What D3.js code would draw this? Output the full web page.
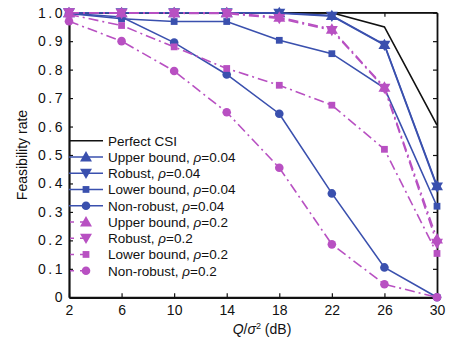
<!DOCTYPE html>
<html><head><meta charset="utf-8">
<script src="https://cdn.jsdelivr.net/npm/d3@7"></script>
<style>body{margin:0;background:#fff;} svg{display:block;font-family:"Liberation Sans",Arial,sans-serif;}</style>
</head><body>
<svg id="c" width="451" height="342"></svg>
<script>
const xValues = [2, 6, 10, 14, 18, 22, 26, 30];
const yTicks = [0, 0.1, 0.2, 0.3, 0.4, 0.5, 0.6, 0.7, 0.8, 0.9, 1.0];
const yTickLabels = ["0", "0.1", "0.2", "0.3", "0.4", "0.5", "0.6", "0.7", "0.8", "0.9", "1.0"];

const perfectCSI   = [1.0, 1.0, 1.0, 1.0, 1.0, 1.0, 0.95, 0.605];
const upper004     = [1.0, 1.0, 1.0, 1.0, 1.0, 0.99, 0.888, 0.392];
const robust004    = [1.0, 1.0, 1.0, 1.0, 0.998, 0.988, 0.886, 0.388];
const lower004     = [0.997, 0.979, 0.969, 0.969, 0.903, 0.856, 0.735, 0.32];
const nonrobust004 = [0.998, 0.985, 0.895, 0.783, 0.645, 0.365, 0.105, 0.0];
const upper02      = [1.0, 1.0, 1.0, 1.0, 0.984, 0.942, 0.738, 0.205];
const robust02     = [1.0, 0.998, 0.998, 0.997, 0.98, 0.938, 0.735, 0.19];
const lower02      = [0.994, 0.955, 0.88, 0.804, 0.745, 0.675, 0.52, 0.154];
const nonrobust02  = [0.97, 0.9, 0.795, 0.65, 0.455, 0.186, 0.046, 0.0];

const legendLabels = ["Perfect CSI", "Upper bound, ", "Robust, ", "Lower bound, ", "Non-robust, ",
                      "Upper bound, ", "Robust, ", "Lower bound, ", "Non-robust, "];
const legendRho = [null, "0.04", "0.04", "0.04", "0.04", "0.2", "0.2", "0.2", "0.2"];

const BLUE = "#3a50ae", MAG = "#b850c2", BLACK = "#111";
const DASH = "10,4,2,4";

const series = [
  {vals: perfectCSI, color: BLACK, dash: null, sym: null},
  {vals: upper004, color: BLUE, dash: null, sym: "up"},
  {vals: robust004, color: BLUE, dash: null, sym: "down"},
  {vals: lower004, color: BLUE, dash: null, sym: "square"},
  {vals: nonrobust004, color: BLUE, dash: null, sym: "circle"},
  {vals: upper02, color: MAG, dash: DASH, sym: "up"},
  {vals: robust02, color: MAG, dash: DASH, sym: "down"},
  {vals: lower02, color: MAG, dash: DASH, sym: "square"},
  {vals: nonrobust02, color: MAG, dash: DASH, sym: "circle"},
];

const L = 69, R = 437, T = 12.7, B = 297.3;
const svg = d3.select("#c");
const x = d3.scaleLinear().domain([2, 30]).range([L, R]);
const y = d3.scaleLinear().domain([0, 1]).range([B, T]);

function symPath(s) {
  if (s === "up" || s === "down") return d3.symbol().type(d3.symbolTriangle).size(62)();
  if (s === "square") return d3.symbol().type(d3.symbolSquare).size(46)();
  return d3.symbol().type(d3.symbolCircle).size(58)();
}
function symTransform(s, px, py) {
  if (s === "down") return `translate(${px},${py - 1}) rotate(180)`;
  if (s === "up") return `translate(${px},${py + 1})`;
  return `translate(${px},${py})`;
}

// Frame
svg.append("line").attr("x1", L).attr("x2", R).attr("y1", T).attr("y2", T).attr("stroke", "#111").attr("stroke-width", 1.3);

// Axes
const xAxis = d3.axisBottom(x).tickValues(xValues).tickSizeInner(-4).tickSizeOuter(0).tickPadding(8);
const gx = svg.append("g").attr("transform", `translate(0,${B})`).call(xAxis);
const yAxis = d3.axisLeft(y).tickValues(yTicks).tickFormat((d, i) => yTickLabels[i]).tickSizeInner(-4).tickSizeOuter(0).tickPadding(4);
const gy = svg.append("g").attr("transform", `translate(${L},0)`).call(yAxis);
const gyr = svg.append("g").attr("transform", `translate(${R},0)`).call(d3.axisRight(y).tickValues(yTicks).tickFormat("").tickSizeInner(-4).tickSizeOuter(0));
const gxt = svg.append("g").attr("transform", `translate(0,${T})`).call(d3.axisTop(x).tickValues(xValues).tickFormat("").tickSizeInner(-4).tickSizeOuter(0));
[gx, gy, gyr, gxt].forEach(g => {
  g.selectAll(".domain").attr("stroke", "#111").attr("stroke-width", 2.2);
  g.selectAll(".tick line").attr("stroke", "#111").attr("stroke-width", 1.2);
  g.selectAll("text").attr("fill", "#111").style("font-size", "14px").style("font-family", '"Liberation Sans",Arial,sans-serif');
});
gy.selectAll("text").style("letter-spacing", "2.5px");
gxt.select(".domain").attr("stroke-width", 1.3);
gyr.select(".domain").attr("stroke-width", 1.8);

// Series
const line = d3.line().x((d, i) => x(xValues[i])).y(d => y(d));
series.forEach(s => {
  svg.append("path").datum(s.vals).attr("d", line).attr("fill", "none")
    .attr("stroke", s.color).attr("stroke-width", 1.6)
    .attr("stroke-dasharray", s.dash);
  if (s.sym) {
    svg.append("g").selectAll("path").data(s.vals).join("path")
      .attr("d", symPath(s.sym))
      .attr("transform", (d, i) => symTransform(s.sym, x(xValues[i]), y(d)))
      .attr("fill", s.color);
  }
});

// Legend
const lg = svg.append("g");
series.forEach((s, i) => {
  const ly = 140.7 + i * 16.25;
  lg.append("line").attr("x1", 69).attr("x2", 103).attr("y1", ly).attr("y2", ly)
    .attr("stroke", s.color).attr("stroke-width", 1.6)
    .attr("stroke-dasharray", s.dash ? "4,6,4,20" : null)
    .attr("stroke-dashoffset", s.dash ? -1 : null);
  if (s.sym) lg.append("path").attr("d", symPath(s.sym)).attr("transform", symTransform(s.sym, 86, ly)).attr("fill", s.color);
  const t = lg.append("text").attr("x", 108).attr("y", ly + 5).style("font-size", "13.5px").attr("fill", "#111");
  t.append("tspan").text(legendLabels[i]);
  if (legendRho[i]) {
    t.append("tspan").style("font-style", "italic").text("ρ");
    t.append("tspan").text("=" + legendRho[i]);
  }
});

// Axis titles
const xt = svg.append("text").attr("x", 262).attr("y", 334).attr("text-anchor", "middle").style("font-size", "14px").attr("fill", "#111");
xt.append("tspan").style("font-style", "italic").text("Q");
xt.append("tspan").text("/");
xt.append("tspan").style("font-style", "italic").text("σ");
xt.append("tspan").attr("dy", -5).style("font-size", "9px").text("2");
xt.append("tspan").attr("dy", 5).text(" (dB)");

svg.append("text").attr("transform", "translate(27,155) rotate(-90)").attr("text-anchor", "middle")
  .style("font-size", "14px").attr("fill", "#111").text("Feasibility rate");
</script>
</body></html>
